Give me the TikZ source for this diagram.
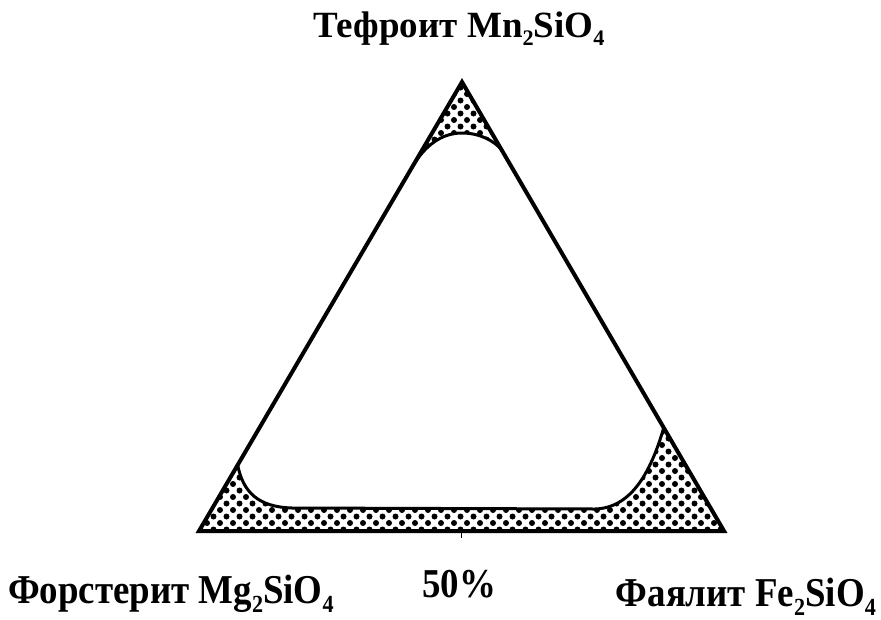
\documentclass[tikz,border=0pt]{standalone}
\usepackage{fontspec}
\setmainfont{Liberation Serif}
\usetikzlibrary{calc}
\newcommand\lsub[1]{\raisebox{-0.22em}{\scalebox{0.6}{#1}}}
\begin{document}
\begin{tikzpicture}[x=1pt,y=-1pt,
  edge/.style={line width=4pt,line join=miter},
  bound/.style={line width=3pt,line cap=round},
  lbl/.style={font=\bfseries\fontsize{37}{44}\selectfont,inner sep=0pt},
  blbl/.style={font=\bfseries\fontsize{41}{48}\selectfont,inner sep=0pt},
  dot/.style={fill=black}]
\useasboundingbox (0,0) rectangle (881,619);
\coordinate (A) at (462,82);
\coordinate (L) at (199,531);
\coordinate (R) at (724,531);
\coordinate (TL) at ($(A)!0.19!(L)$);
\coordinate (TR) at ($(A)!0.15!(R)$);
\coordinate (BL) at ($(L)!0.147!(A)$);
\coordinate (BR) at ($(R)!0.23!(A)$);
\coordinate (P1) at (462,133);
\coordinate (Q1) at (292,508);
\coordinate (Q2) at (595,509);
% dotted fields
\begin{scope}
  \clip (A) -- (TL) .. controls (425,145) and (442,133) .. (P1)
        .. controls (480,133) and (494,141) .. (TR) -- cycle
        (L) -- (BL) .. controls (243,492) and (258,507) .. (Q1) -- (Q2)
        .. controls (630,508) and (650,475) .. (BR) -- (R) -- cycle;
  \foreach \yy in {81,94,...,540} {
    \foreach \xx in {194,207,...,732} {
      \fill[dot] (\xx,\yy) circle (3);
      \fill[dot] (\xx+6.5,\yy+6.5) circle (3);
    }
  }
\end{scope}
% boundaries of the fields
\draw[bound] (TL) .. controls (425,145) and (442,133) .. (P1)
        .. controls (480,133) and (494,141) .. (TR);
\draw[bound] (BL) .. controls (243,492) and (258,507) .. (Q1) -- (Q2)
        .. controls (630,508) and (650,475) .. (BR);
% triangle
\draw[edge] (A) -- (L) -- (R) -- cycle;
% tick at 50%
\coordinate (M) at ($(L)!0.5!(R)$);
\coordinate (Mt) at ($(M)+(0,7)$);
\draw[line width=1.5pt] (M) -- (Mt);
% labels
\node[lbl,anchor=base] (mn) at (459,37) {Тефроит Mn\lsub{2}SiO\lsub{4}};
\node[blbl,anchor=base west,xscale=0.9] (mg) at (8,603) {Форстерит Mg\lsub{2}SiO\lsub{4}};
\node[blbl,anchor=base,xscale=0.9] (pc) at (459,597) {50\%};
\node[blbl,anchor=base east,xscale=0.9] (fe) at (876,606) {Фаялит Fe\lsub{2}SiO\lsub{4}};
\end{tikzpicture}
\end{document}
